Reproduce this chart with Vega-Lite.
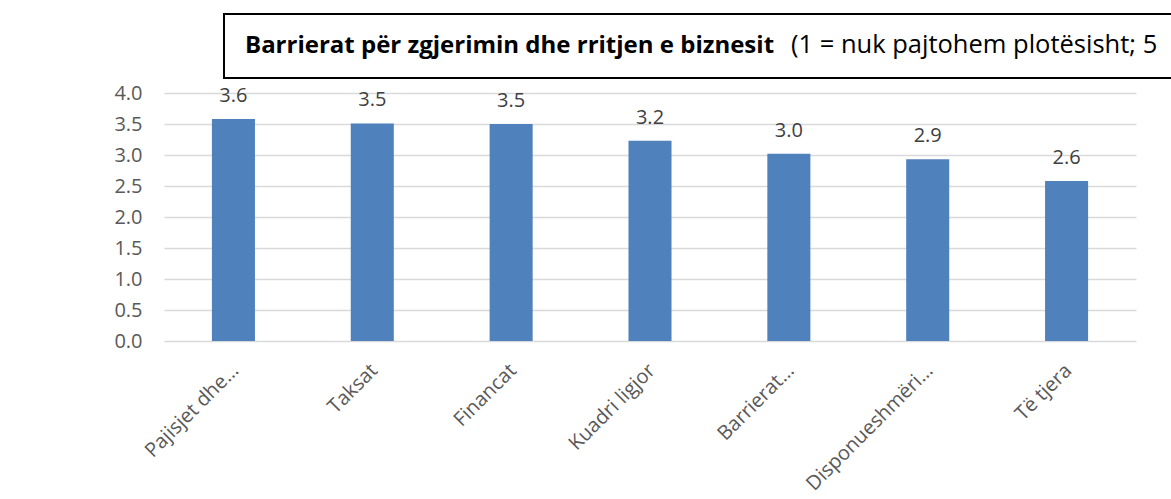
{
  "$schema": "https://vega.github.io/schema/vega-lite/v6.json",
  "padding": {"left": 113, "top": 13, "right": 0, "bottom": 4},
  "spacing": 4,
  "config": {"font": "Open Sans", "view": {"stroke": null}},
  "vconcat": [
    {
      "bounds": "flush",
      "spacing": 20,
      "hconcat": [
        {
          "width": 40, "height": 64,
          "data": {"values": [{"t": ""}]},
          "mark": {"type": "text"},
          "encoding": {"text": {"field": "t"}}
        },
        {
          "width": 1000, "height": 64,
          "view": {"stroke": "#000000", "strokeWidth": 2},
          "data": {"values": [{"bold": "Barrierat për zgjerimin dhe rritjen e biznesit", "rest": "(1 = nuk pajtohem plotësisht; 5"}]},
          "layer": [
            {
              "mark": {"type": "text", "align": "left", "baseline": "alphabetic", "fontWeight": "bold", "fontSize": 24, "dx": -479, "dy": 7, "color": "#000000"},
              "encoding": {"text": {"field": "bold"}}
            },
            {
              "mark": {"type": "text", "align": "left", "baseline": "alphabetic", "fontSize": 25.5, "dx": 67, "dy": 7, "color": "#000000"},
              "encoding": {"text": {"field": "rest"}}
            }
          ]
        }
      ]
    },
    {
      "width": 972, "height": 248,
      "data": {"values": [
        {"category": "Pajisjet dhe…", "value": 3.58},
        {"category": "Taksat", "value": 3.51},
        {"category": "Financat", "value": 3.50},
        {"category": "Kuadri ligjor", "value": 3.23},
        {"category": "Barrierat…", "value": 3.02},
        {"category": "Disponueshmëri…", "value": 2.93},
        {"category": "Të tjera", "value": 2.58}
      ]},
      "encoding": {
        "x": {
          "field": "category", "type": "nominal", "sort": null,
          "scale": {"paddingInner": 0.69, "paddingOuter": 0.345},
          "axis": {"title": null, "labelAngle": -45, "domain": false, "ticks": false, "labelFontSize": 20, "labelColor": "#595959", "labelPadding": 19, "labelOffset": -5, "labelLimit": 300}
        },
        "y": {
          "field": "value", "type": "quantitative",
          "scale": {"domain": [0, 4]},
          "axis": {"title": null, "values": [0, 0.5, 1, 1.5, 2, 2.5, 3, 3.5, 4], "format": ".1f", "labelOverlap": false, "domain": false, "ticks": false, "labelPadding": 22, "labelFontSize": 20, "labelColor": "#595959", "gridColor": "#D9D9D9", "gridWidth": 1.5}
        }
      },
      "layer": [
        {"mark": {"type": "bar", "color": "#4F81BD"}},
        {
          "mark": {"type": "text", "baseline": "alphabetic", "dy": -17, "fontSize": 20, "color": "#404040"},
          "encoding": {"text": {"field": "value", "format": ".1f"}}
        }
      ]
    }
  ]
}
